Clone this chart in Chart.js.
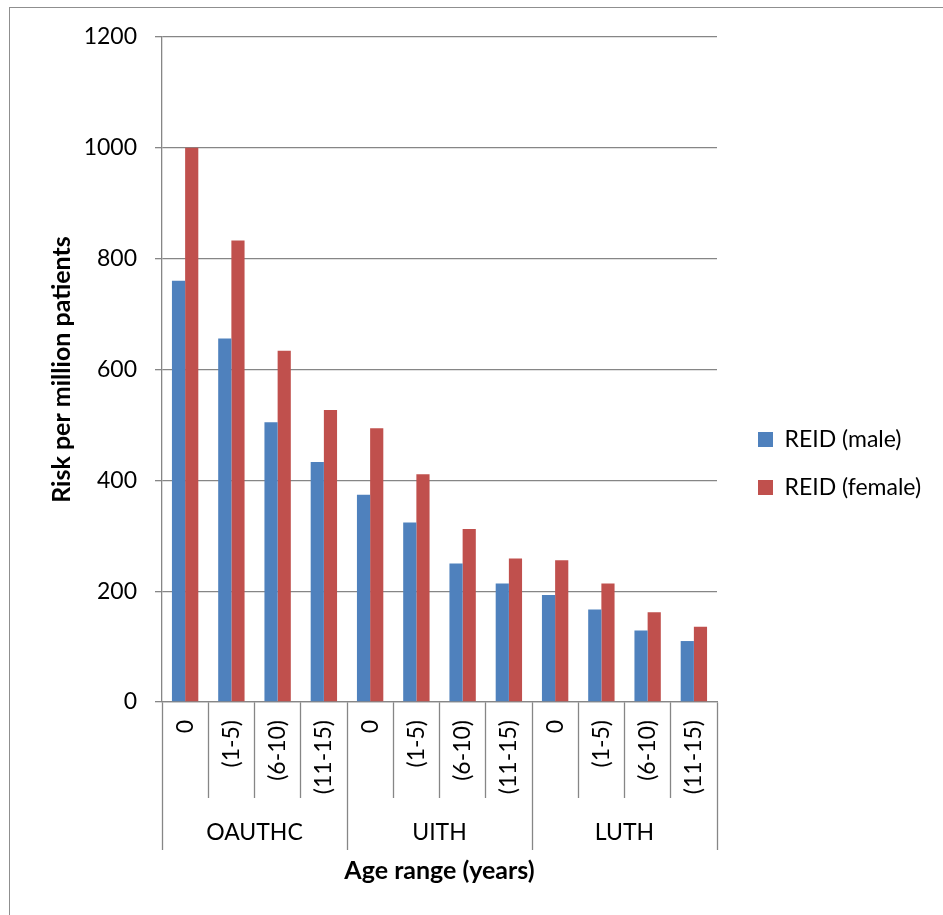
<!DOCTYPE html>
<html>
<head>
<meta charset="utf-8">
<script src="https://cdn.jsdelivr.net/npm/chart.js@4.4.1/dist/chart.umd.min.js"></script>
<style>
  html, body { margin: 0; padding: 0; background: #fff; overflow: hidden; }
  #frame { position: absolute; left: 9px; top: 7px; width: 1000px; height: 1000px; border: 1px solid #8f8f8f; }
  #wrap { position: absolute; left: 0; top: 0; width: 943px; height: 915px; }
</style>
</head>
<body>
<div id="frame"></div>
<div id="wrap"><canvas id="riskChart"></canvas></div>
<script>
const ageRanges = ['0', '(1-5)', '(6-10)', '(11-15)', '0', '(1-5)', '(6-10)', '(11-15)', '0', '(1-5)', '(6-10)', '(11-15)'];
const hospitals = ['OAUTHC', 'UITH', 'LUTH'];
const maleRisk = [760, 656, 505, 433, 374, 324, 250, 214, 193, 167, 129, 110];
const femaleRisk = [1000, 833, 634, 527, 494, 411, 312, 259, 256, 214, 162, 136];

const gridGray = '#868686';
const font = { family: 'Lato', size: 23 };
const boldFont = { family: 'Lato', size: 25, weight: 'bold' };

// legend sits a bit away from the plot, like the original
const legendGap = {
    id: 'legendGap',
    beforeLayout(chart) {
        const lg = chart.legend;
        if (lg && !lg._gapPatched) {
            const baseFit = lg.fit;
            lg.fit = function () { baseFit.call(this); this.width = 226; };
            lg._gapPatched = true;
        }
    },
    afterLayout(chart) {
        chart.legend.left += 16;
        chart.legend.right += 16;
    }
};

const ctx = document.getElementById('riskChart').getContext('2d');
const riskChart = new Chart(ctx, {
    type: 'bar',
    data: {
        labels: ageRanges,
        datasets: [{
            label: 'REID (male)',
            data: maleRisk,
            backgroundColor: '#4f81bd',
            categoryPercentage: 0.57,
            barPercentage: 1.0
        }, {
            label: 'REID (female)',
            data: femaleRisk,
            backgroundColor: '#c0504d',
            categoryPercentage: 0.57,
            barPercentage: 1.0
        }]
    },
    plugins: [legendGap],
    options: {
        responsive: true,
        maintainAspectRatio: false,
        animation: false,
        layout: {
            padding: { top: 37, right: 0, bottom: 25, left: 0 }
        },
        plugins: {
            tooltip: { enabled: false },
            legend: {
                position: 'right',
                labels: {
                    color: '#000',
                    font: font,
                    boxWidth: 15,
                    boxHeight: 15,
                    padding: 25
                }
            }
        },
        scales: {
            x: {
                weight: 0,
                grid: {
                    offset: true,
                    drawOnChartArea: false,
                    tickLength: 96,
                    tickColor: gridGray,
                    tickWidth: 1.3
                },
                border: { color: gridGray, width: 1.3 },
                ticks: {
                    color: '#000',
                    font: font,
                    minRotation: 90,
                    maxRotation: 90,
                    autoSkip: false,
                    padding: -78
                },
                afterFit: function (scale) { scale.height = 96; }
            },
            groups: {
                type: 'category',
                position: 'bottom',
                weight: 1,
                labels: hospitals,
                offset: true,
                grid: {
                    offset: true,
                    drawOnChartArea: false,
                    tickLength: 52,
                    tickColor: gridGray,
                    tickWidth: 1.3
                },
                border: { display: false },
                ticks: {
                    color: '#000',
                    font: font,
                    maxRotation: 0,
                    padding: -31
                },
                title: {
                    display: true,
                    text: 'Age range (years)',
                    color: '#000',
                    font: boldFont,
                    padding: { top: 0, bottom: 4 }
                },
                afterFit: function (scale) { scale.height = 92; }
            },
            y: {
                min: 0,
                max: 1200,
                ticks: {
                    stepSize: 200,
                    color: '#000',
                    font: font,
                    padding: 18,
                    callback: function (value) { return String(value); }
                },
                grid: {
                    color: gridGray,
                    lineWidth: 1.3,
                    tickLength: 7
                },
                border: { color: gridGray, width: 1.3 },
                title: {
                    display: true,
                    text: 'Risk per million patients',
                    color: '#000',
                    font: boldFont,
                    padding: { top: 47, bottom: 0 }
                },
                afterFit: function (scale) { scale.width = 162; }
            }
        }
    }
});
</script>
</body>
</html>
